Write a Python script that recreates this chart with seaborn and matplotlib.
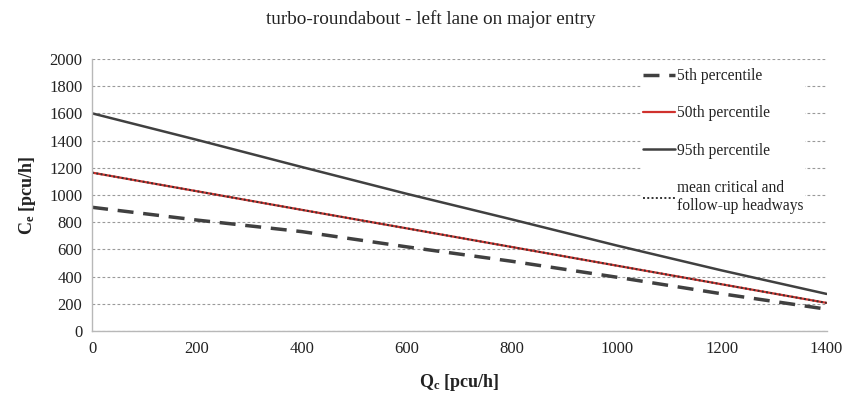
import matplotlib
matplotlib.use("Agg")
import matplotlib.pyplot as plt
import seaborn as sns
import pandas as pd

# ---- data ----
qc = [0, 200, 400, 600, 800, 1000, 1200, 1400]
p5 = [909, 815, 730, 618, 512, 395, 273, 160]
p50 = [1164, 1027, 890, 754, 617, 480, 343, 206]
p95 = [1600, 1405, 1205, 1008, 820, 628, 445, 272]
mean_headways = [1164, 1027, 890, 754, 617, 480, 343, 206]

series_labels = ["5th percentile", "50th percentile", "95th percentile",
                 "mean critical and\nfollow-up headways"]
x_ticks = [0, 200, 400, 600, 800, 1000, 1200, 1400]
y_ticks = [0, 200, 400, 600, 800, 1000, 1200, 1400, 1600, 1800, 2000]

title = "turbo-roundabout - left lane on major entry"

sns.set_theme(style="white")
plt.rcParams['font.family'] = ['Liberation Serif', 'DejaVu Serif']
plt.rcParams['mathtext.fontset'] = 'custom'
plt.rcParams['mathtext.rm'] = 'Liberation Serif'
plt.rcParams['mathtext.bf'] = 'Liberation Serif:bold'
plt.rcParams['mathtext.it'] = 'Liberation Serif:italic'

fig = plt.figure(figsize=(8.61, 3.93), dpi=100)
ax = fig.add_axes([0.107, 0.158, 0.853, 0.692])

df = pd.DataFrame({"qc": qc, "p5": p5, "p50": p50, "p95": p95, "mean": mean_headways})

sns.lineplot(data=df, x="qc", y="p5", ax=ax, color="#404040", lw=2.5,
             label=series_labels[0])
ax.lines[-1].set_dashes([4.6, 2.8])
sns.lineplot(data=df, x="qc", y="p50", ax=ax, color="#d0312d", lw=1.6,
             label=series_labels[1])
sns.lineplot(data=df, x="qc", y="p95", ax=ax, color="#404040", lw=1.8,
             label=series_labels[2])
sns.lineplot(data=df, x="qc", y="mean", ax=ax, color="#333333", lw=1.4,
             label=series_labels[3])
ax.lines[-1].set_linestyle((0, (1, 1.2)))

ax.set_xlim(0, 1400)
ax.set_ylim(0, 2000)
ax.set_xticks(x_ticks)
ax.set_yticks(y_ticks)
ax.tick_params(axis='both', labelsize=12, colors='#222222', length=4,
               width=0.8, direction='out', pad=3)
ax.tick_params(axis='both', color='#b0b0b0')
ax.yaxis.grid(True, color='#9a9a9a', lw=0.8, ls=(0, (2.5, 2)))
ax.xaxis.grid(False)
ax.set_axisbelow(True)
for s in ['top', 'right']:
    ax.spines[s].set_visible(False)
for s in ['left', 'bottom']:
    ax.spines[s].set_color('#b8b8b8')
    ax.spines[s].set_linewidth(1.0)

ax.set_xlabel(r"$\mathbf{Q_c}$ [pcu/h]", fontsize=13, fontweight='bold',
              labelpad=11, color='#222222')
ax.set_ylabel(r"$\mathbf{C_e}$ [pcu/h]", fontsize=13, fontweight='bold',
              labelpad=8, color='#222222')
fig.text(0.5, 0.952, title, ha='center', va='center', fontsize=13.8,
         color='#222222')

leg = ax.legend(loc='upper right', bbox_to_anchor=(0.981, 1.0), fontsize=11.2,
                frameon=True, facecolor='white', edgecolor='none', framealpha=1,
                fancybox=False, labelspacing=1.36, handlelength=2.0,
                handletextpad=0.15, borderpad=0.1)
for t in leg.get_texts():
    t.set_color('#222222')

fig.savefig("out.png", dpi=100)
